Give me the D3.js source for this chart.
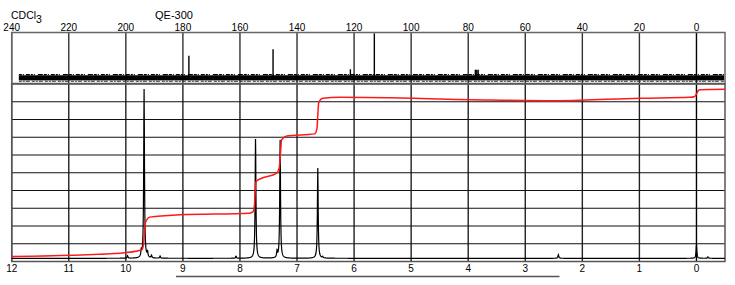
<!DOCTYPE html>
<html>
<head>
<meta charset="utf-8">
<script src="https://cdn.jsdelivr.net/npm/d3@7"></script>
<style>
body { margin: 0; background: #fff; }
svg { display: block; font-family: "Liberation Sans", Arial, sans-serif; }
.tick-label { font-size: 10px; fill: #000; }
</style>
</head>
<body>
<svg width="735" height="285"></svg>
<script>
// 1H tick labels (ppm) and 13C tick labels (ppm)
var hTicks = [12, 11, 10, 9, 8, 7, 6, 5, 4, 3, 2, 1, 0];
var cTicks = [240, 220, 200, 180, 160, 140, 120, 100, 80, 60, 40, 20, 0];

// 1H peaks: position (ppm), height (grid units)
var hPos    = [9.97, 9.73, 9.68, 9.62, 9.55, 9.40, 8.07, 7.727, 7.35, 7.296, 6.636, 6.55, 2.42, 0.0, -0.2];
var hHeight = [0.15, 0.35, 9.52, 0.30, 0.15, 0.12, 0.12, 6.72, 0.35, 6.67, 5.08, 0.08, 0.2, 0.75, 0.08];
var hBase = 0.18;

// integral trace (ppm, grid units)
var intPpm = [12.0, 10.1, 9.72, 9.69, 9.675, 9.66, 9.58, 9.05, 7.83, 7.77, 7.745, 7.735, 7.72, 7.62, 7.36, 7.31, 7.29, 7.27, 7.18, 6.69, 6.65, 6.635, 6.62, 6.55, 6.25, 3.62, 2.4, 1.0, 0.12, 0.03, 0.0, -0.03, -0.06, -0.5];
var intVal = [0.28, 0.47, 0.66, 0.95, 1.6, 2.16, 2.5, 2.63, 2.72, 2.81, 3.2, 3.9, 4.5, 4.69, 4.97, 5.3, 6.1, 6.85, 7.07, 7.19, 7.5, 8.3, 8.95, 9.2, 9.25, 9.1, 9.06, 9.2, 9.25, 9.3, 9.45, 9.62, 9.68, 9.7];

// 13C peaks: position (ppm), relative height
var cPos    = [177.9, 148.4, 121.3, 112.9, 77.5, 77.0, 76.5];
var cHeight = [0.50, 0.64, 0.21, 0.98, 0.20, 0.20, 0.20];
var cNoise = [-0.03, 0.08];

// visible-region bar under the 1H axis (ppm)
var viewRange = [9.12, 2.4];

var svg = d3.select("svg");
var left = 11.7, right = 725;

var x = d3.scaleLinear().domain([12, -0.5]).range([left, right]);
var xC = d3.scaleLinear().domain([240, -10]).range([left, right]);
var yH = d3.scaleLinear().domain([0, 10]).range([261.5, 84]);
var yC = d3.scaleLinear().domain([0, 1]).range([79, 32.5]);

// titles
var t1 = svg.append("text").attr("x", 11).attr("y", 19).attr("font-size", 10.5).text("CDCl");
t1.append("tspan").attr("dy", 3.5).attr("font-size", 10.5).text("3");
svg.append("text").attr("x", 155).attr("y", 19).attr("font-size", 11).text("QE-300");

// grids: 13C panel
var g = svg.append("g");
g.selectAll(".vc").data(cTicks).enter().append("line")
  .attr("x1", d => xC(d)).attr("x2", d => xC(d))
  .attr("y1", 32.5).attr("y2", 83.5)
  .attr("stroke", d => d === 0 ? "#000" : "#333").attr("stroke-width", 1.4);

// grids: 1H panel
g.selectAll(".vh").data(hTicks).enter().append("line")
  .attr("x1", d => x(d)).attr("x2", d => x(d))
  .attr("y1", yH(10)).attr("y2", yH(0))
  .attr("stroke", d => d === 0 ? "#000" : "#222").attr("stroke-width", 1.4);
g.selectAll(".hh").data(d3.range(1, 10)).enter().append("line")
  .attr("x1", left).attr("x2", right)
  .attr("y1", d => yH(d)).attr("y2", d => yH(d))
  .attr("stroke", "#111").attr("stroke-width", 1.2);

// frames
svg.append("rect").attr("x", left).attr("y", 32.5).attr("width", right - left).attr("height", 51)
  .attr("fill", "none").attr("stroke", "#666").attr("stroke-width", 1.5);
svg.append("rect").attr("x", left).attr("y", yH(10)).attr("width", right - left).attr("height", yH(0) - yH(10))
  .attr("fill", "none").attr("stroke", "#555").attr("stroke-width", 1.5);

// tick labels
svg.selectAll(".ct").data(cTicks).enter().append("text")
  .attr("class", "tick-label").attr("text-anchor", "middle")
  .attr("x", d => xC(d)).attr("y", 30.5).text(d => d);
svg.selectAll(".ht").data(hTicks).enter().append("text")
  .attr("class", "tick-label").attr("text-anchor", "middle")
  .attr("x", d => x(d)).attr("y", 272).text(d => d);

// 13C noise band
var nx0 = xC(237.5), nx1 = right - 1;
svg.append("rect").attr("x", nx0).attr("y", yC(cNoise[1])).attr("width", nx1 - nx0)
  .attr("height", yC(cNoise[0]) - yC(cNoise[1])).attr("fill", "#000");
svg.append("line").attr("x1", nx0).attr("x2", nx1)
  .attr("y1", yC(cNoise[1]) - 0.7).attr("y2", yC(cNoise[1]) - 0.7)
  .attr("stroke", "#000").attr("stroke-width", 1.4).attr("stroke-dasharray", "3 1 1 2 4 1 2 1 1 3 5 1");
svg.append("line").attr("x1", nx0).attr("x2", nx1)
  .attr("y1", yC(cNoise[0]) + 0.9).attr("y2", yC(cNoise[0]) + 0.9)
  .attr("stroke", "#333").attr("stroke-width", 1.0).attr("stroke-dasharray", "3 1 2 1 4 2");

// 13C peaks
svg.selectAll(".cp").data(cPos).enter().append("line")
  .attr("x1", d => xC(d)).attr("x2", d => xC(d))
  .attr("y1", yC(0)).attr("y2", (d, i) => yC(cHeight[i]))
  .attr("stroke", "#000").attr("stroke-width", 1.4);

// 1H spectrum line (lorentzian per peak)
var hw = 0.008;
var pts = d3.range(12, -0.5, -0.004).concat(hPos).sort((a, b) => b - a);
var spec = pts.map(function(p) {
  var v = hBase;
  hPos.forEach(function(c, i) { v += hHeight[i] * hw * hw / ((p - c) * (p - c) + hw * hw); });
  return [p, v];
});
svg.append("path").datum(spec)
  .attr("fill", "none").attr("stroke", "#000").attr("stroke-width", 1.2)
  .attr("d", d3.line().x(d => x(d[0])).y(d => yH(d[1])));

// integral
var integ = intPpm.map((p, i) => [p, intVal[i]]);
svg.append("path").datum(integ)
  .attr("fill", "none").attr("stroke", "#ff1a1a").attr("stroke-width", 1.5)
  .attr("d", d3.line().curve(d3.curveMonotoneX).x(d => x(d[0])).y(d => yH(d[1])));

// view range bar
svg.append("line").attr("x1", x(viewRange[0])).attr("x2", x(viewRange[1]))
  .attr("y1", 276.5).attr("y2", 276.5).attr("stroke", "#555").attr("stroke-width", 1.6);
</script>
</body>
</html>
